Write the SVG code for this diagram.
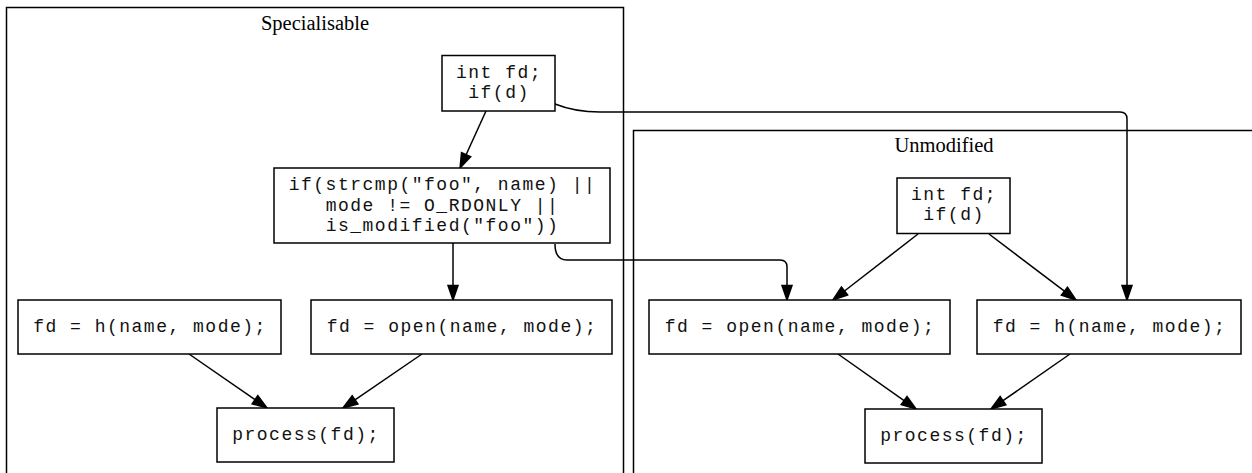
<svg xmlns="http://www.w3.org/2000/svg" width="1252" height="473" viewBox="0 0 1252 473">
  <style>
    .cluster { fill: none; stroke: #000; stroke-width: 1.5; }
    .title { font-family: "Liberation Serif", "Times New Roman", serif; font-size: 20.5px; text-anchor: middle; fill: #000; }
    .box { fill: #fff; stroke: #000; stroke-width: 1.5; }
    .code { font-family: "Liberation Mono", "Courier New", monospace; font-size: 18px; letter-spacing: 1.5px; text-anchor: middle; fill: #111; }
    .edge { fill: none; stroke: #000; stroke-width: 1.5; marker-end: url(#arrow); }
  </style>
  <defs>
    <marker id="arrow" markerUnits="userSpaceOnUse" markerWidth="16" markerHeight="12" viewBox="0 -6 16 12" refX="0" refY="0" orient="auto" overflow="visible">
      <path d="M0,-5 L14.6,0 L0,5 Z" fill="#000" stroke="#000" stroke-width="1.5"/>
    </marker>
  </defs>
  <rect width="1252" height="473" fill="#fff"/>

  <!-- clusters -->
  <g id="cluster_specialisable">
    <rect class="cluster" x="6.5" y="7.5" width="617" height="480"/>
    <text class="title" x="315" y="30">Specialisable</text>
  </g>
  <g id="cluster_unmodified">
    <rect class="cluster" x="633.5" y="130.5" width="640" height="360"/>
    <text class="title" x="944" y="152">Unmodified</text>
  </g>

  <!-- connectors -->
  <g id="edges">
    <path class="edge" d="M486,111 L466.1,154.7"/>
    <path class="edge" d="M555,104 C570,110 585,112 600,112 L1120,112 Q1127,112 1127,119 L1127,285.4"/>
    <path class="edge" d="M453,243 L453,285.4"/>
    <path class="edge" d="M555,244 C555,253 558,260 567,260 L780,260 Q787,260 787,267 L787,285.4"/>
    <path class="edge" d="M189,354 L255,399.7"/>
    <path class="edge" d="M422,354 L355,399.8"/>
    <path class="edge" d="M918,234 L844.5,291"/>
    <path class="edge" d="M989,234 L1064.4,291.2"/>
    <path class="edge" d="M838,354 L904.1,400.6"/>
    <path class="edge" d="M1070,354 L1003,400.7"/>
  </g>

  <!-- Specialisable nodes -->
  <g id="s_decl">
    <rect class="box" x="442" y="55.5" width="113" height="55.5"/>
    <text class="code" x="499" y="77.5">int fd;</text>
    <text class="code" x="499" y="97.5">if(d)</text>
  </g>
  <g id="s_check">
    <rect class="box" x="274" y="168" width="336" height="75"/>
    <text class="code" x="442.5" y="190">if(strcmp("foo", name) ||</text>
    <text class="code" x="442.5" y="210.5">mode != O_RDONLY ||</text>
    <text class="code" x="442.5" y="231">is_modified("foo"))</text>
  </g>
  <g id="s_hook">
    <rect class="box" x="18" y="300" width="263" height="54"/>
    <text class="code" x="150" y="332">fd = h(name, mode);</text>
  </g>
  <g id="s_open">
    <rect class="box" x="311" y="300" width="301" height="54"/>
    <text class="code" x="462" y="332">fd = open(name, mode);</text>
  </g>
  <g id="s_process">
    <rect class="box" x="217" y="408" width="177" height="54"/>
    <text class="code" x="306" y="440">process(fd);</text>
  </g>

  <!-- Unmodified nodes -->
  <g id="u_decl">
    <rect class="box" x="897" y="178" width="113" height="55.5"/>
    <text class="code" x="954" y="200">int fd;</text>
    <text class="code" x="954" y="220">if(d)</text>
  </g>
  <g id="u_open">
    <rect class="box" x="649" y="300" width="301" height="54"/>
    <text class="code" x="800" y="332">fd = open(name, mode);</text>
  </g>
  <g id="u_hook">
    <rect class="box" x="977" y="300" width="264" height="54"/>
    <text class="code" x="1109.5" y="332">fd = h(name, mode);</text>
  </g>
  <g id="u_process">
    <rect class="box" x="865" y="409" width="177" height="54"/>
    <text class="code" x="954" y="441">process(fd);</text>
  </g>
</svg>
